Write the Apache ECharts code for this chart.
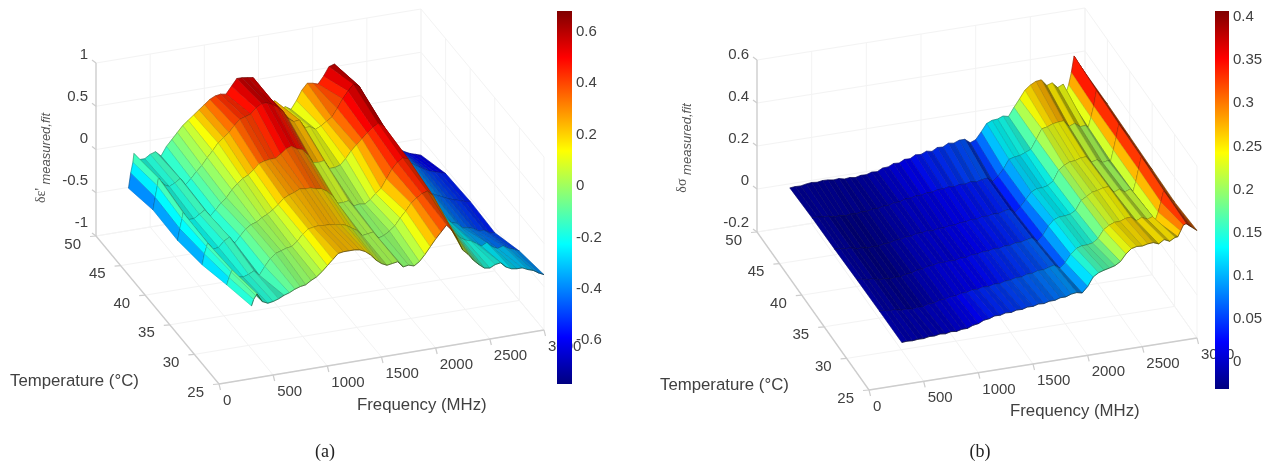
<!DOCTYPE html>
<html><head><meta charset="utf-8">
<style>html,body{margin:0;padding:0;background:#fff}#c{width:1268px;height:466px;filter:blur(0.45px)}</style>
<script src="https://cdn.jsdelivr.net/npm/echarts@6/dist/echarts.min.js"></script>
</head><body><div id="c"></div>
<script>
// ---------- tick labels ----------
const freqTicks = [0,500,1000,1500,2000,2500,3000];
const tempTicks = [25,30,35,40,45,50];
const zTicksA = [-1,-0.5,0,0.5,1];
const zTicksB = [-0.2,0,0.2,0.4,0.6];
const barTicksA = [-0.6,-0.4,-0.2,0,0.2,0.4,0.6];
const barTicksB = [0,0.05,0.1,0.15,0.2,0.25,0.3,0.35,0.4];
// ---------- panel (a): frequencies and one row per temperature ----------
const freqA = [300,320,340,350,400,450,500,550,600,650,700,750,800,850,900,950,1000,1050,1100,1150,1200,1250,1300,1350,1400,1450,1500,1550,1600,1650,1700,1750,1800,1850,1900,1950,2000,2050,2100,2150,2200,2250,2300,2350,2400,2450,2500,2550,2600,2650,2700,2750,2800,2850,2900,2950,3000];
const a25 = [-.16,-.09,-.05,-.03, -.13,-.16,-.15,-.13,-.10,-.08,-.05,-.03, -.02,.02,.05,.10,.16,.22,.28,.29,.29,.29,.28,.25,.20,.13,.08,.05,.06,.07,.00,.01,-.01, .03,.10,.18,.26,.33,.40,.33,.22, .08,.02,-.06,-.12,-.17,-.18,-.15,-.14,-.20,-.23,-.24,-.24,-.27,-.29,-.33,-.36];
const a30 = [-.26,-.18,-.12,-.10, -.19,-.20,-.18,-.15,-.21,-.12,-.04,.01, .03,.05,.06,.11,.18,.23,.24,.25,.24,.24,.23,.22,.20,.16,.12,.05,.06,.07,-.01,.01,.05, .10,.18,.25,.33,.38,.42,.44,.38, .25,.12,.00,-.09,-.16,-.20,-.22,-.26,-.30,-.27,-.33,-.36,-.34,-.38,-.40,-.43];
const a35 = [-.37,-.25,-.17,-.13, -.21,-.20,-.14,-.10,-.18,-.11,-.04,.00, .02,.06,.09,.13,.18,.24,.27,.29,.32,.31,.31,.29,.28,.24,.18,.08,.08,.09,.02,.03,.02, .06,.12,.17,.27,.37,.44,.48,.46, .33,.20,.07,-.05,-.15,-.24,-.30,-.36,-.38,-.44,-.45,-.47,-.51,-.51,-.55,-.56];
const a40 = [-.43,-.30,-.19,-.12, -.21,-.21,-.17,-.13,-.21,-.15,-.08,-.03, .05,.11,.16,.19,.24,.30,.32,.33,.33,.37,.42,.44,.40,.38,.31,.21,.20,.21,.11,.11,.13, .19,.27,.33,.39,.45,.50,.54,.50, .38,.25,.11,-.01,-.12,-.21,-.28,-.34,-.38,-.41,-.44,-.47,-.49,-.51,-.53,-.54];
const a45 = [-.42,-.28,-.15,-.06, -.15,-.18,-.15,-.11,-.19,-.13,-.06,.00, .08,.15,.23,.28,.33,.40,.46,.48,.50,.56,.60,.60,.57,.53,.47,.37,.33,.34,.24,.24,.20, .23,.27,.31,.40,.50,.58,.65,.62, .50,.36,.22,.10,-.02,-.13,-.22,-.29,-.35,-.39,-.43,-.47,-.50,-.52,-.54,-.56];
const a50 = [-.51,-.34,-.22,-.12, -.20,-.20,-.16,-.14,-.20,-.10,-.03,.04, .11,.16,.21,.26,.31,.36,.39,.40,.39,.47,.55,.55,.54,.53,.42,.30,.20,.22,.12,.13,.09, .18,.29,.36,.35,.33,.41,.51,.53, .42,.30,.18,.08,-.02,-.12,-.22,-.30,-.38,-.46,-.52,-.58,-.62,-.65,-.67,-.69];
// ---------- panel (b) ----------
const freqB = [300,350,400,450,500,550,600,650,700,750,800,850,900,950,1000,1050,1100,1150,1200,1250,1300,1350,1400,1450,1500,1550,1600,1650,1700,1750,1800,1850,1900,1950,2000,2050,2100,2150,2200,2250,2300,2350,2400,2450,2500,2550,2600,2650,2700,2750,2800,2825,2850,2875,2900,2950,3000];
const b25 = [-.003,-.001,-.003,.000,-.001,.004,.003,.008,.005,.011, .008,.014,.014,.024,.028,.040,.043,.052,.051,.058, .056,.063,.062,.069,.068,.075,.073,.080,.080,.088, .088,.097,.100,.094,.120,.160,.176,.184,.190,.197, .212,.243,.264,.270,.268,.274,.276,.266,.282,.270, .284,.285,.310,.335,.340,.320,.300];
const b30 = [-.004,-.005,-.010,-.010,-.017,-.015,-.020,-.015,-.016,-.008, -.007,.002,.002,.010,.010,.018,.018,.026,.024,.031, .029,.036,.034,.042,.043,.050,.049,.058,.058,.067, .066,.074,.080,.062,.084,.118,.141,.150,.150,.155, .172,.208,.225,.235,.235,.245,.247,.226,.238,.225, .233,.215,.250,.295,.345,.310,.285];
const b35 = [-.006,-.007,-.013,-.013,-.022,-.021,-.026,-.022,-.024,-.016, -.014,-.005,-.004,.005,.006,.013,.011,.014,.012,.019, .018,.026,.025,.032,.031,.037,.035,.042,.041,.049, .048,.055,.060,.040,.064,.102,.128,.137,.138,.142, .156,.198,.212,.228,.232,.240,.242,.212,.222,.205, .215,.200,.245,.300,.355,.320,.290];
const b40 = [-.010,-.011,-.016,-.016,-.025,-.024,-.030,-.026,-.029,-.022, -.022,-.014,-.014,-.006,-.006,.002,.001,.008,.003,.009, .008,.014,.013,.020,.020,.026,.024,.032,.030,.036, .034,.042,.046,.026,.050,.080,.110,.122,.122,.128, .146,.192,.210,.222,.224,.232,.234,.205,.212,.195, .200,.195,.245,.300,.360,.325,.295];
const b45 = [-.012,-.012,-.016,-.016,-.024,-.022,-.027,-.023,-.026,-.020, -.022,-.016,-.017,-.010,-.010,-.002,-.002,.007,.007,.014, .013,.020,.019,.027,.026,.032,.028,.035,.032,.039, .034,.040,.044,.024,.045,.075,.115,.122,.125,.135, .145,.188,.233,.238,.248,.252,.254,.224,.234,.215, .216,.205,.250,.300,.370,.330,.300];
const b50 = [-.019,-.017,-.018,-.013,-.010,-.013,-.009,-.010,-.014,-.012, -.018,-.015,-.019,-.013,-.014,-.006,-.008,.005,.006,.018, .016,.029,.028,.042,.040,.051,.046,.060,.058,.072, .068,.078,.078,.058,.068,.100,.135,.146,.148,.158, .152,.190,.225,.262,.282,.295,.298,.268,.276,.250, .262,.220,.255,.310,.385,.340,.300];

const TXT = '#404040', FONT = 'Liberation Sans, Arial, sans-serif';
function jet(t){
  const c = v => Math.max(0, Math.min(1, v));
  return [c(Math.min(4*t-1.5, -4*t+4.5)), c(Math.min(4*t-.5, -4*t+3.5)), c(Math.min(4*t+.5, -4*t+2.5))];
}
const rgb = (c,k) => 'rgb(' + c.map(v => Math.round(Math.min(1, v*k)*255)).join(',') + ')';
const jetStops = []; for (let i=0;i<=32;i++) jetStops.push({offset:i/32, color:rgb(jet(1-i/32),1)});

// A surface panel: orthographic view built from the axis ends on the page.
function panel(p){
  const rows = p.rows, tMin = p.temps[0], tMax = p.temps[p.temps.length-1];
  const fr = f => f/3000, tr = t => (t-tMin)/(tMax-tMin), zr = z => (z-p.zMin)/(p.zMax-p.zMin);
  const P = (f,t,z) => [p.O[0]+fr(f)*p.F[0]+tr(t)*p.T[0], p.O[1]+fr(f)*p.F[1]+tr(t)*p.T[1]-zr(z)*p.Zh];
  const line = (a,b,stroke,w) => ({type:'line',shape:{x1:a[0],y1:a[1],x2:b[0],y2:b[1]},style:{stroke,lineWidth:w,fill:null},silent:true});
  const label = (x,y,text,align,extra) => ({type:'text',x,y,style:Object.assign({text,fill:TXT,font:'15px '+FONT,align,verticalAlign:'middle'},extra||{}),silent:true});
  const frame = () => {
    const out = [], G = '#f3f3f3', A = '#cdcdcd';
    freqTicks.forEach(f => {
      out.push(line(P(f,tMin,p.zMin),P(f,tMax,p.zMin),G,1));
      out.push(line(P(f,tMax,p.zMin),P(f,tMax,p.zMax),G,1));
    });
    tempTicks.forEach(t => {
      out.push(line(P(0,t,p.zMin),P(3000,t,p.zMin),G,1));
      out.push(line(P(3000,t,p.zMin),P(3000,t,p.zMax),G,1));
    });
    p.zTicks.forEach(z => {
      out.push(line(P(0,tMax,z),P(3000,tMax,z),G,1));
      out.push(line(P(3000,tMax,z),P(3000,tMin,z),G,1));
    });
    out.push(line(P(0,tMin,p.zMin),P(3000,tMin,p.zMin),A,1.3));
    out.push(line(P(0,tMin,p.zMin),P(0,tMax,p.zMin),A,1.3));
    out.push(line(P(0,tMax,p.zMin),P(0,tMax,p.zMax),A,1.3));
    freqTicks.forEach(f => {
      const q = P(f,tMin,p.zMin);
      out.push(line(q,[q[0]+1.5,q[1]+6],A,1.2));
      out.push(label(q[0]+4,q[1]+17,String(f),'left'));
    });
    tempTicks.forEach(t => {
      const q = P(0,t,p.zMin);
      out.push(line(q,[q[0]-6,q[1]+0.5],A,1.2));
      out.push(label(q[0]-15,q[1]+8.5,String(t),'right'));
    });
    p.zTicks.forEach(z => {
      const q = P(0,tMax,z), u = zr(z);
      out.push(line(q,[q[0]-4,q[1]-3],A,1.2));
      out.push(label(q[0]-8,q[1]+p.labelOff[1]+(p.labelOff[0]-p.labelOff[1])*u,String(z),'right'));
    });
    const big = {font:'16.8px '+FONT};
    out.push(label(p.tempTitle[0],p.tempTitle[1],'Temperature (°C)','left',big));
    out.push(label(p.freqTitle[0],p.freqTitle[1],'Frequency (MHz)','left',big));
    out.push(label(p.caption[0],p.caption[1],p.captionText,'center',{font:'18px Liberation Serif, Times New Roman, serif',fill:'#222'}));
    out.push({type:'text',x:p.yTitle[0],y:p.yTitle[1],rotation:Math.PI/2,silent:true,style:{
      text:'{a|'+p.yName+'}{b| measured,fit}',align:'center',verticalAlign:'middle',fill:'#555',
      rich:{a:{font:'14px Liberation Serif, serif',fill:'#555',padding:[0,0,5,0]},b:{font:'italic 13px Liberation Sans, sans-serif',fill:'#555',padding:[5,0,0,0]}}}});
    return out;
  };
  // quads, far ones first
  const quads = [];
  for (let j=rows.length-2;j>=0;j--) for (let i=p.freqs.length-2;i>=0;i--) quads.push([i,j]);
  const cmin = p.cMin, cmax = p.cMax;
  return [
    {type:'custom',coordinateSystem:'none',silent:true,z:1,animation:false,data:[[0]],
     renderItem:()=>({type:'group',children:frame()})},
    {type:'custom',coordinateSystem:'none',silent:true,z:2,animation:false,data:quads,
     renderItem:(ctx,api)=>{
       const i=api.value(0), j=api.value(1);
       const f0=p.freqs[i], f1=p.freqs[i+1], t0=p.temps[j], t1=p.temps[j+1];
       const z00=rows[j][i], z10=rows[j][i+1], z01=rows[j+1][i], z11=rows[j+1][i+1];
       const a=P(f0,t0,z00), b=P(f1,t0,z10), c=P(f1,t1,z11), d=P(f0,t1,z01);
       const mean=(z00+z10+z01+z11)/4;
       const tone=p.tone?mean-p.tone*Math.max(0,1-Math.abs(mean-0.15)/0.25):mean;
       const col=jet((tone-cmin)/(cmax-cmin));
       const dz=((z10+z11)-(z00+z01))/2*p.Zh/(p.zMax-p.zMin);
       const s=dz/((f1-f0)/3000*p.F[0]);
       const k=s<0?Math.max(p.shadeMin,p.flat+p.shade*s):Math.min(1,p.flat+(1-p.flat)*s);
       const kids=[{type:'polygon',shape:{points:[a,b,c,d]},style:{fill:rgb(col,k),stroke:rgb(col,k*0.82),lineWidth:0.6},silent:true}];
       kids.push(line(a,b,'rgba(30,30,10,0.55)',0.9));
       if (j===rows.length-2) kids.push(line(d,c,'rgba(30,30,10,0.3)',0.7));
       return {type:'group',children:kids};
     }}
  ];
}
function barSeries(idx,lo,hi){
  return {type:'custom',coordinateSystem:'cartesian2d',xAxisIndex:idx,yAxisIndex:idx,silent:true,z:5,animation:false,clip:false,
    data:[[0,lo,hi]],
    renderItem:(ctx,api)=>{
      const top=api.coord([0,api.value(2)]), bot=api.coord([0,api.value(1)]);
      const r=ctx.coordSys;
      return {type:'rect',shape:{x:r.x,y:top[1],width:r.width,height:bot[1]-top[1]},
        style:{fill:new echarts.graphic.LinearGradient(0,0,0,1,jetStops)}};
    }};
}
const panelA = panel({freqs:freqA,temps:tempTicks,rows:[a25,a30,a35,a40,a45,a50],
  O:[219,384],F:[325,-54],T:[-123,-148],Zh:173,zMin:-1,zMax:1,zTicks:zTicksA,cMin:-0.77,cMax:0.68,tone:0.07,flat:0.86,shade:0.14,shadeMin:0.6,labelOff:[-8,-13],
  tempTitle:[10,381],freqTitle:[357,405],caption:[325,452],captionText:'(a)',yTitle:[44,158],yName:"δε'"});
const panelB = panel({freqs:freqB,temps:tempTicks,rows:[b25,b30,b35,b40,b45,b50],
  O:[869,390],F:[328,-52],T:[-112,-158],Zh:172,zMin:-0.2,zMax:0.6,zTicks:zTicksB,cMin:-0.031,cMax:0.407,flat:0.82,shade:0.25,shadeMin:0.55,labelOff:[-5,-9],
  tempTitle:[660,385],freqTitle:[1010,411],caption:[980,452],captionText:'(b)',yTitle:[685,148],yName:'δσ'});
const hidden = {show:false,type:'value',min:0,max:1};
const labelAxis = (g,lo,hi,ticks) => ({type:'value',gridIndex:g,position:'right',min:lo,max:hi,splitLine:{show:false},
  axisLine:{show:false},axisTick:{show:false},z:6,
  axisLabel:{customValues:ticks,color:TXT,fontFamily:FONT,fontSize:15,margin:4,formatter:v=>String(v)}});
echarts.init(document.getElementById('c'),null,{renderer:'canvas'}).setOption({
  animation:false,backgroundColor:'#fff',
  grid:[{left:557,width:15,top:11,height:373},{left:1215,width:14,top:11,height:378}],
  xAxis:[Object.assign({gridIndex:0},hidden),Object.assign({gridIndex:1},hidden)],
  yAxis:[labelAxis(0,-0.77,0.68,barTicksA),labelAxis(1,-0.031,0.407,barTicksB)],
  series:[...panelA,...panelB,barSeries(0,-0.77,0.68),barSeries(1,-0.031,0.407)]
});
</script></body></html>
